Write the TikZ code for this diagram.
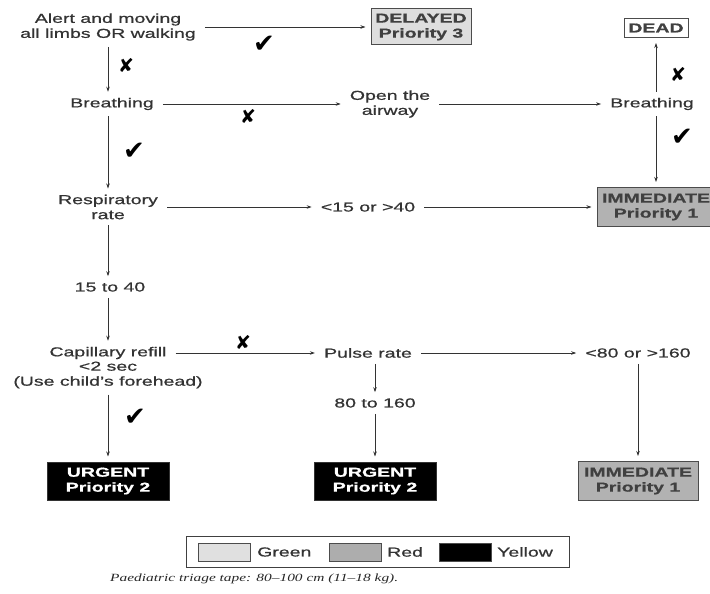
\documentclass[tikz,border=0pt]{standalone}
\usepackage{fontspec}
\setmainfont{Liberation Sans}[FakeStretch=1.5,FakeBold=0.8]
\newfontfamily\capfont{Liberation Serif}[FakeStretch=1.4]
\newfontfamily\symfont{DejaVu Sans}
\usetikzlibrary{arrows.meta}
\begin{document}
\begin{tikzpicture}[x=1pt,y=-1pt,
  lbl/.style={font=\fontsize{13}{15}\selectfont, align=center, text=black!80, inner xsep=4pt, inner ysep=1pt},
  box/.style={draw=black!70, line width=1pt, font=\fontsize{13}{15}\selectfont\bfseries, align=center, inner sep=0pt},
  boxg/.style={box, fill=black!13, text=black!75},
  boxr/.style={box, fill=black!30, text=black!75, minimum width=120pt, minimum height=39pt},
  boxk/.style={box, fill=black, draw=black!80, text=white, minimum width=122pt, minimum height=38pt},
  boxw/.style={box, fill=white, text=black!75, minimum width=64pt, minimum height=19pt},
  arr/.style={-{Stealth[length=5pt,width=3.5pt]}, line width=0.7pt, draw=black!80, shorten <=5pt, shorten >=5pt},
  ck/.style={font=\symfont\fontsize{26}{26}\selectfont, inner sep=0pt},
  xm/.style={font=\symfont\fontsize{19}{19}\selectfont, inner sep=0pt},
  sw/.style={draw=black!70, line width=0.8pt, minimum width=52pt, minimum height=18pt, inner sep=0pt},
  leg/.style={font=\fontsize{13}{15}\selectfont, text=black!80, inner sep=1pt}
]
\useasboundingbox (0,0) rectangle (710,594);

% nodes
\node[lbl] (alert) at (108,27) {Alert and moving\\all limbs OR walking};
\node[boxg, minimum width=100pt, minimum height=36pt] (delayed) at (421,27) {DELAYED\\Priority 3};
\node[boxw] (dead) at (656,28) {DEAD};
\node[lbl] (br1) at (112,104) {Breathing};
\node[lbl] (airway) at (390,104) {Open the\\airway};
\node[lbl] (br2) at (652,104) {Breathing};
\node[boxr, minimum width=118pt] (imm1) at (656,207) {IMMEDIATE\\Priority 1};
\node[lbl] (resp) at (108,207) {Respiratory\\rate};
\node[lbl] (lt15) at (368,207) {<15 or >40};
\node[lbl] (r1540) at (110,287) {15 to 40};
\node[lbl] (cap) at (108,353) {Capillary refill};
\node[lbl] (capb) at (108,375) {<2 sec\\(Use child's forehead)};
\node[lbl] (pulse) at (368,353) {Pulse rate};
\node[lbl] (lt80) at (638,353) {<80 or >160};
\node[lbl] (r80) at (375,403) {80 to 160};
\node[boxk] (urg1) at (108,481) {URGENT\\Priority 2};
\node[boxk] (urg2) at (375,481) {URGENT\\Priority 2};
\node[boxr] (imm2) at (638,481) {IMMEDIATE\\Priority 1};

% connectors
\draw[arr] (alert) -- (delayed);
\draw[arr] (alert) -- (alert |- br1.north);
\draw[arr] (br1) -- (airway);
\draw[arr] (airway) -- (br2);
\draw[arr] (dead |- br2.north) -- (dead);
\draw[arr] (imm1 |- br2.south) -- (imm1);
\draw[arr] (resp |- br1.south) -- (resp);
\draw[arr] (resp) -- (lt15);
\draw[arr] (lt15) -- (imm1);
\draw[arr] (resp) -- (resp |- r1540.north);
\draw[arr] (resp |- r1540.south) -- (cap);
\draw[arr] (cap) -- (pulse);
\draw[arr] (pulse) -- (lt80);
\draw[arr] (r80 |- pulse.south) -- (r80);
\draw[arr] (r80) -- (urg2);
\draw[arr] (lt80) -- (imm2);
\draw[arr] (capb) -- (urg1);

% marks
\node[ck] (c1) at (264,44) {✔};
\node[ck] (c2) at (134,151) {✔};
\node[ck] (c3) at (682,137) {✔};
\node[ck] (c4) at (135,417) {✔};
\node[xm] (x1) at (126,65) {✘};
\node[xm] (x2) at (248,116) {✘};
\node[xm] (x3) at (678,74) {✘};
\node[xm] (x4) at (243,342) {✘};

% legend
\node[draw=black!75, line width=1pt, minimum width=383pt, minimum height=31pt, inner sep=0pt] (legend) at (378,552) {};
\node[sw, fill=black!12] (sg) at (224,552) {};
\node[leg, anchor=west] (tg) at (256,552) {Green};
\node[sw, fill=black!32] (sr) at (355,552) {};
\node[leg, anchor=west] (tr) at (386,552) {Red};
\node[sw, fill=black] (sy) at (465,552) {};
\node[leg, anchor=west] (ty) at (496,552) {Yellow};

% caption
\node[font=\capfont\itshape\fontsize{11}{13}\selectfont, anchor=west, inner sep=0pt, text=black!85] (caption) at (110,579) {Paediatric triage tape: 80–100 cm (11–18 kg).};
\end{tikzpicture}
\end{document}
